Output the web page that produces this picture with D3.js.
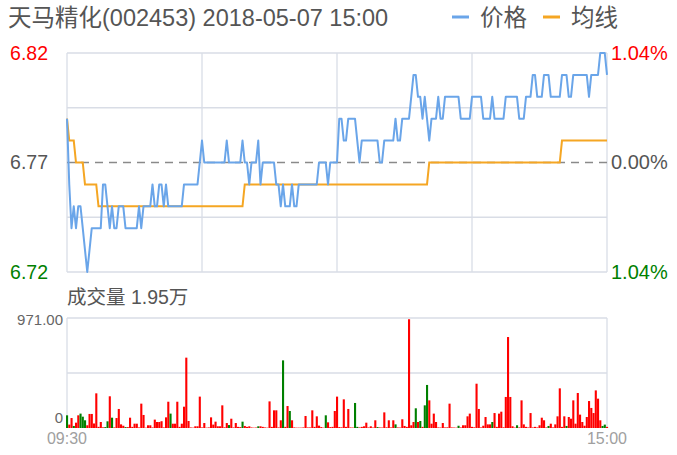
<!DOCTYPE html>
<html><head><meta charset="utf-8">
<script src="https://cdn.jsdelivr.net/npm/d3@7/dist/d3.min.js"></script>
<style>
html,body{margin:0;padding:0;background:#fff;}
svg{display:block;font-family:"Liberation Sans","Noto Sans CJK SC",Arial,sans-serif;}
</style></head>
<body><svg id="c" width="677" height="455"></svg>
<script>
const titleText = "天马精化(002453) 2018-05-07 15:00";
const legendNames = ["价格", "均线"];
const volTitle = "成交量 1.95万";
const timeLabels = ["09:30", "15:00"];
const priceTicks = [6.82, 6.77, 6.72];
const pctLabels = ["1.04%", "0.00%", "1.04%"];
const volTicks = [971, 0];
const volTickLabels = ["971.00", "0"];

const prices = [
6.79,6.76,6.74,6.75,6.74,6.75,6.75,6.74,6.73,6.72,
6.73,6.74,6.74,6.74,6.74,6.74,6.76,6.76,6.75,6.74,
6.75,6.74,6.74,6.75,6.75,6.75,6.74,6.74,6.74,6.74,
6.74,6.74,6.75,6.74,6.75,6.75,6.75,6.75,6.76,6.75,
6.75,6.76,6.76,6.75,6.76,6.75,6.75,6.75,6.75,6.75,
6.75,6.75,6.76,6.76,6.76,6.76,6.76,6.76,6.76,6.77,
6.78,6.77,6.77,6.77,6.77,6.77,6.77,6.77,6.77,6.77,
6.77,6.78,6.77,6.77,6.77,6.77,6.77,6.77,6.78,6.77,
6.77,6.76,6.77,6.77,6.77,6.78,6.76,6.77,6.77,6.77,
6.77,6.77,6.77,6.76,6.76,6.75,6.76,6.75,6.75,6.75,
6.76,6.75,6.75,6.76,6.76,6.76,6.76,6.76,6.76,6.76,
6.76,6.76,6.77,6.77,6.77,6.77,6.76,6.77,6.77,6.77,
6.77,6.79,6.79,6.78,6.78,6.79,6.79,6.79,6.79,6.78,
6.77,6.78,6.78,6.78,6.78,6.78,6.78,6.78,6.78,6.77,
6.77,6.78,6.78,6.78,6.78,6.78,6.79,6.78,6.78,6.79,
6.79,6.79,6.79,6.80,6.81,6.81,6.80,6.80,6.79,6.80,
6.79,6.78,6.79,6.79,6.79,6.80,6.79,6.79,6.80,6.80,
6.80,6.80,6.80,6.80,6.80,6.79,6.79,6.79,6.79,6.79,
6.80,6.80,6.80,6.80,6.80,6.79,6.79,6.79,6.79,6.80,
6.79,6.79,6.79,6.79,6.79,6.80,6.80,6.80,6.80,6.80,
6.80,6.79,6.79,6.79,6.80,6.80,6.80,6.81,6.81,6.80,
6.80,6.80,6.81,6.81,6.81,6.80,6.80,6.80,6.80,6.80,
6.81,6.81,6.81,6.80,6.80,6.81,6.81,6.81,6.81,6.81,
6.81,6.81,6.80,6.81,6.81,6.81,6.81,6.82,6.82,6.82,
6.81];

const avgPrices = [
6.79,6.78,6.78,6.78,6.77,6.77,6.77,6.77,6.76,6.76,
6.76,6.76,6.76,6.76,6.75,6.75,6.75,6.75,6.75,6.75,
6.75,6.75,6.75,6.75,6.75,6.75,6.75,6.75,6.75,6.75,
6.75,6.75,6.75,6.75,6.75,6.75,6.75,6.75,6.75,6.75,
6.75,6.75,6.75,6.75,6.75,6.75,6.75,6.75,6.75,6.75,
6.75,6.75,6.75,6.75,6.75,6.75,6.75,6.75,6.75,6.75,
6.75,6.75,6.75,6.75,6.75,6.75,6.75,6.75,6.75,6.75,
6.75,6.75,6.75,6.75,6.75,6.75,6.75,6.75,6.75,6.76,
6.76,6.76,6.76,6.76,6.76,6.76,6.76,6.76,6.76,6.76,
6.76,6.76,6.76,6.76,6.76,6.76,6.76,6.76,6.76,6.76,
6.76,6.76,6.76,6.76,6.76,6.76,6.76,6.76,6.76,6.76,
6.76,6.76,6.76,6.76,6.76,6.76,6.76,6.76,6.76,6.76,
6.76,6.76,6.76,6.76,6.76,6.76,6.76,6.76,6.76,6.76,
6.76,6.76,6.76,6.76,6.76,6.76,6.76,6.76,6.76,6.76,
6.76,6.76,6.76,6.76,6.76,6.76,6.76,6.76,6.76,6.76,
6.76,6.76,6.76,6.76,6.76,6.76,6.76,6.76,6.76,6.76,
6.76,6.77,6.77,6.77,6.77,6.77,6.77,6.77,6.77,6.77,
6.77,6.77,6.77,6.77,6.77,6.77,6.77,6.77,6.77,6.77,
6.77,6.77,6.77,6.77,6.77,6.77,6.77,6.77,6.77,6.77,
6.77,6.77,6.77,6.77,6.77,6.77,6.77,6.77,6.77,6.77,
6.77,6.77,6.77,6.77,6.77,6.77,6.77,6.77,6.77,6.77,
6.77,6.77,6.77,6.77,6.77,6.77,6.77,6.77,6.77,6.77,
6.78,6.78,6.78,6.78,6.78,6.78,6.78,6.78,6.78,6.78,
6.78,6.78,6.78,6.78,6.78,6.78,6.78,6.78,6.78,6.78,
6.78];

const volumes = [
112,30,88,18,47,112,127,100,68,24,
124,124,40,306,10,53,6,8,59,280,
91,5,88,168,32,20,8,8,91,10,
38,38,5,215,115,3,24,24,5,74,
53,53,60,5,94,232,127,38,38,232,
10,38,188,621,62,5,3,15,15,277,
5,44,3,5,94,30,56,15,15,200,
6,44,26,82,5,44,10,8,56,18,
10,15,5,3,4,15,15,10,5,3,
235,10,156,156,5,68,597,10,194,150,
68,5,3,3,3,5,106,5,5,156,
10,103,21,8,3,112,50,8,10,150,
277,8,6,253,10,168,5,4,221,10,
5,10,15,47,5,15,4,68,8,5,
4,138,6,68,5,68,32,5,4,77,
18,10,960,24,53,174,53,62,10,200,
380,244,38,127,53,5,4,44,5,6,
215,5,4,3,20,5,24,24,103,127,
10,6,391,168,5,20,97,32,32,53,
132,10,127,144,6,274,803,274,15,4,
24,5,244,32,10,5,132,5,10,5,
24,91,68,5,18,38,5,32,103,350,
10,103,18,97,82,244,38,309,118,53,
20,97,238,177,132,332,259,68,18,30,
10];

const greenBars = [0,3,6,7,8,17,18,20,26,46,72,78,85,96,99,115,128,129,138,146,155,157,159,160,174,189,200,214,222,238,239];

const svg = d3.select("#c");
const FONT = '"Liberation Sans","Noto Sans CJK SC",Arial,sans-serif';
const left = 67, right = 607;
const x = d3.scaleLinear().domain([0, 240]).range([left, right]);
const y = d3.scaleLinear().domain([6.72, 6.82]).range([272, 53]);
const yv = d3.scaleLinear().domain([0, 971]).range([428, 318]);
const gridColor = "#d9dde6";

// price grid
const hGrid = [6.82, 6.795, 6.745, 6.72];
svg.append("g").selectAll("line").data(hGrid).join("line")
  .attr("x1", left).attr("x2", right)
  .attr("y1", d => y(d)).attr("y2", d => y(d))
  .attr("stroke", gridColor).attr("stroke-width", 1.3);
svg.append("g").selectAll("line").data([0, 60, 120, 180, 240]).join("line")
  .attr("x1", d => x(d)).attr("x2", d => x(d))
  .attr("y1", y(6.82)).attr("y2", y(6.72))
  .attr("stroke", gridColor).attr("stroke-width", 1.3);
svg.append("line").attr("x1", left).attr("x2", right)
  .attr("y1", y(6.77)).attr("y2", y(6.77))
  .attr("stroke", "#8a8a8a").attr("stroke-width", 1.6).attr("stroke-dasharray", "8,6");

// volume grid
svg.append("g").selectAll("line").data([971, 485.5]).join("line")
  .attr("x1", left).attr("x2", right)
  .attr("y1", d => yv(d)).attr("y2", d => yv(d))
  .attr("stroke", gridColor).attr("stroke-width", 1.3);
svg.append("g").selectAll("line").data([0, 240]).join("line")
  .attr("x1", d => x(d)).attr("x2", d => x(d))
  .attr("y1", yv(971)).attr("y2", yv(0))
  .attr("stroke", gridColor).attr("stroke-width", 1.3);

// volume bars
const gset = new Set(greenBars);
svg.append("g").selectAll("rect").data(volumes).join("rect")
  .attr("x", (d, i) => x(i) - 1)
  .attr("width", 2.1)
  .attr("y", d => yv(d))
  .attr("height", d => yv(0) - yv(d))
  .attr("fill", (d, i) => gset.has(i) ? "#008000" : "#ff0000");

// lines
const line = d3.line().x((d, i) => x(i)).y(d => y(d));
svg.append("path").datum(avgPrices).attr("d", line)
  .attr("fill", "none").attr("stroke", "#f5a623").attr("stroke-width", 2);
svg.append("path").datum(prices).attr("d", line)
  .attr("fill", "none").attr("stroke", "#6aa5e9").attr("stroke-width", 2).attr("stroke-linejoin", "round");

// left/right price axes
const tickColors = ["#ff0000", "#555555", "#008000"];
const axL = svg.append("g").attr("transform", `translate(48,0)`)
  .call(d3.axisLeft(y).tickValues(priceTicks).tickSize(0).tickPadding(0).tickFormat(d3.format(".2f")));
axL.select(".domain").remove();
axL.selectAll("text").attr("font-size", 19.5).attr("font-family", FONT)
  .attr("fill", (d, i) => tickColors[i]);
const axR = svg.append("g").attr("transform", `translate(${right + 4},0)`)
  .call(d3.axisRight(y).tickValues(priceTicks).tickSize(0).tickPadding(0).tickFormat((d, i) => pctLabels[i]));
axR.select(".domain").remove();
axR.selectAll("text").attr("font-size", 20).attr("font-family", FONT)
  .attr("fill", (d, i) => tickColors[i]);

// volume axis
const axV = svg.append("g").attr("transform", `translate(${left - 4},0)`)
  .call(d3.axisLeft(yv).tickValues(volTicks).tickSize(0).tickPadding(0).tickFormat((d, i) => volTickLabels[i]));
axV.select(".domain").remove();
axV.selectAll("text").attr("font-size", 15).attr("font-family", FONT).attr("fill", "#666")
  .attr("dy", (d, i) => i === 0 ? "0.42em" : "-0.4em");

// time axis
svg.append("g").selectAll("text").data(timeLabels).join("text")
  .attr("x", (d, i) => x(i * 240)).attr("y", 444)
  .attr("text-anchor", "middle").attr("font-size", 16).attr("font-family", FONT)
  .attr("fill", "#a0a0a0").text(d => d);

// title
svg.append("text").attr("x", 8).attr("y", 26).attr("font-size", 23.5)
  .attr("font-family", FONT).attr("fill", "#555").text(titleText);

// legend
const legColors = ["#6aa5e9", "#f5a623"];
const lg = svg.append("g").selectAll("g").data(legendNames).join("g")
  .attr("transform", (d, i) => `translate(${452 + i * 91},0)`);
lg.append("line").attr("x1", 0).attr("x2", 17).attr("y1", 17).attr("y2", 17)
  .attr("stroke", (d, i) => legColors[i]).attr("stroke-width", 3);
lg.append("text").attr("x", 28).attr("y", 26).attr("font-size", 23.5)
  .attr("font-family", FONT).attr("fill", "#555").text(d => d);

// volume title
svg.append("text").attr("x", 67).attr("y", 304).attr("font-size", 19.5)
  .attr("font-family", FONT).attr("fill", "#555").text(volTitle);
</script></body></html>
